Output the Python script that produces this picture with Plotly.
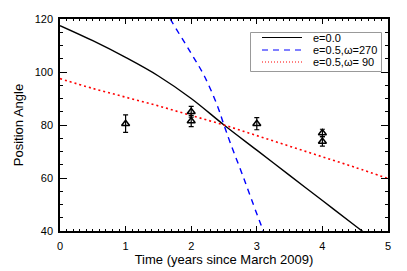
import plotly.graph_objects as go

# Observations
obs_t = [1.0, 2.0, 2.0, 3.0, 4.0, 4.0]
obs_pa = [80.5, 85.0, 81.5, 80.5, 77.0, 73.8]
obs_err = [3.3, 2.0, 2.1, 2.3, 1.4, 1.8]

# Model curves
circ_t = [0.0, 0.5, 1.0, 1.5, 2.0, 2.5, 3.0, 3.5, 4.0, 4.5, 4.7]
circ_pa = [117.5, 111.8, 105.5, 98.5, 90.0, 80.0, 70.5, 61.0, 51.5, 42.0, 38.2]

w270_t = [1.6, 1.68, 2.0, 2.2, 2.4, 2.5, 2.6, 2.8, 3.0, 3.1, 3.15]
w270_pa = [123.5, 120.0, 107.0, 98.5, 87.2, 80.0, 73.0, 60.0, 46.5, 40.0, 36.7]

w90_t = [0.0, 0.5, 1.0, 1.5, 2.0, 2.5, 3.0, 3.5, 4.0, 4.5, 5.0]
w90_pa = [97.5, 93.8, 90.5, 87.2, 83.6, 80.0, 76.0, 72.0, 68.0, 64.0, 59.8]

legend_names = ["e=0.0", "e=0.5,\u03c9=270", "e=0.5,\u03c9= 90"]
legend_colors = ["black", "#0000ff", "#ff0000"]
legend_dash = ["solid", "6px,5px", "1px,2px"]

fig = go.Figure()
fig.add_trace(go.Scatter(x=circ_t, y=circ_pa, mode="lines", name=legend_names[0],
                         line=dict(color=legend_colors[0], width=1.4, shape="spline")))
fig.add_trace(go.Scatter(x=w270_t, y=w270_pa, mode="lines", name=legend_names[1],
                         line=dict(color=legend_colors[1], width=1.4, dash="6px,5px", shape="spline")))
fig.add_trace(go.Scatter(x=w90_t, y=w90_pa, mode="lines", name=legend_names[2],
                         line=dict(color=legend_colors[2], width=1.6, dash="2px,3px", shape="spline")))
fig.add_trace(go.Scatter(x=obs_t, y=obs_pa, mode="markers", showlegend=False,
                         marker=dict(symbol="triangle-up-open", size=7, color="black",
                                     line=dict(width=1.5, color="black")),
                         error_y=dict(type="data", array=obs_err, color="black",
                                      thickness=1.2, width=2.5)))

family = "Liberation Sans, Arial, Helvetica, sans-serif"
font = dict(family=family, size=11, color="black")

# pixel -> paper helpers for the hand-built legend box
L, R, T, B, W, H = 60, 19, 19, 40, 407, 271
pw, ph = W - L - R, H - T - B
def px(p):
    return (p - L) / pw
def py(p):
    return 1 - (p - T) / ph

fig.add_shape(type="rect", xref="paper", yref="paper",
              x0=px(250.5), x1=px(381.5), y0=py(71.5), y1=py(32.5),
              line=dict(color="#999999", width=1), fillcolor="white", layer="above")
rows = [37.5, 50.0, 62.0]
for name, col, dsh, r in zip(legend_names, legend_colors, legend_dash, rows):
    fig.add_shape(type="line", xref="paper", yref="paper",
                  x0=px(262), x1=px(302), y0=py(r), y1=py(r),
                  line=dict(color=col, width=1, dash=dsh), layer="above")
    fig.add_annotation(x=px(311), y=py(r), xref="paper", yref="paper", text=name,
                       showarrow=False, xanchor="left", yanchor="middle",
                       font=dict(family=family, size=11, color="black"))

fig.update_layout(
    width=W, height=H,
    margin=dict(l=L, r=R, t=T, b=B),
    paper_bgcolor="white", plot_bgcolor="white",
    font=font,
    showlegend=False,
    xaxis=dict(range=[0, 5], dtick=1, tick0=0, showgrid=False, zeroline=False,
               showline=True, linecolor="black", linewidth=1.5, mirror="allticks",
               ticks="inside", ticklen=5, tickwidth=1, tickcolor="black",
               minor=dict(dtick=0.1, ticks="inside", ticklen=2.5, tickwidth=1,
                          tickcolor="black", showgrid=False),
               title=dict(text="Time (years since March 2009)", standoff=0),
               ticklabelstandoff=4, automargin=False),
    yaxis=dict(range=[40, 120], dtick=20, tick0=40, showgrid=False, zeroline=False,
               showline=True, linecolor="black", linewidth=1.5, mirror="allticks",
               ticks="inside", ticklen=7, tickwidth=1, tickcolor="black",
               minor=dict(dtick=5, ticks="inside", ticklen=3.5, tickwidth=1,
                          tickcolor="black", showgrid=False),
               title=dict(text="Position Angle", standoff=8),
               ticklabelstandoff=3, automargin=False),
)

fig.write_html("out.html", post_script="document.body.style.margin='0';",
               config={"displayModeBar": False})
